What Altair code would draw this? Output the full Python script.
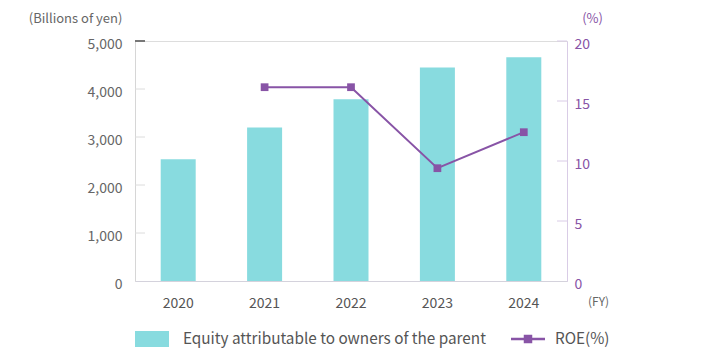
import altair as alt
import pandas as pd

years = ["2020", "2021", "2022", "2023", "2024"]
equity = [2535, 3200, 3785, 4450, 4660]
roe = [None, 16.15, 16.15, 9.4, 12.4]
left_tick_values = [1000, 2000, 3000, 4000, 5000]
right_tick_values = [5, 10, 15, 20]
equity_name = "Equity attributable to owners of the parent"
roe_name = "ROE(%)"

TEAL = "#88dbdf"
PURPLE = "#8854a6"
FONT = "Noto Sans CJK JP"

df = pd.DataFrame({"year": years, "equity": equity, "roe": roe,
                   "s1": equity_name, "s2": roe_name})
lt = pd.DataFrame({"v": left_tick_values})
rt = pd.DataFrame({"v": right_tick_values})

x_axis = alt.Axis(title="(FY)", labelAngle=0, ticks=False, tickSize=0, labelPadding=15,
                  labelFontSize=14, labelColor="#555", domainColor="#d4d2dc",
                  titleX=463, titleY=20, titleAlign="center", titleBaseline="middle",
                  titleFontSize=12, titleColor="#666", titleFontWeight="normal")
x_enc = alt.X("year:N", scale=alt.Scale(paddingInner=0, paddingOuter=0), axis=x_axis)

left_axis = alt.Axis(title="(Billions of yen)", values=[0, 1000, 2000, 3000, 4000, 5000],
                     format=",d", ticks=False, tickSize=0, grid=False,
                     domainColor="#d6d6d6", labelColor="#666", labelFontSize=14,
                     labelPadding=13, labelOffset=3, titleAngle=0, titleX=-60, titleY=-29,
                     titleAlign="center", titleBaseline="top", titleFontSize=13,
                     titleFontWeight="normal", titleColor="#666")
left_scale = alt.Scale(domain=[0, 5000], nice=False)

right_axis = alt.Axis(title="(%)", orient="right", values=[0, 5, 10, 15, 20],
                      ticks=False, tickSize=0, grid=False, domainColor="#d9cce6",
                      labelColor=PURPLE, labelFontSize=14, labelPadding=7, labelOffset=3,
                      titleAngle=0, titleX=25, titleY=-29, titleAlign="center",
                      titleBaseline="top", titleFontSize=13, titleFontWeight="normal",
                      titleColor=PURPLE)
right_scale = alt.Scale(domain=[0, 20], nice=False)

base = alt.Chart(df)

bars = base.mark_bar(size=35).encode(
    x=x_enc,
    y=alt.Y("equity:Q", scale=left_scale, axis=left_axis),
    color=alt.Color("s1:N", scale=alt.Scale(domain=[equity_name], range=[TEAL]),
                    legend=alt.Legend(title=None, orient="none", legendX=0, legendY=281,
                                      symbolType="M-1,-0.47L1,-0.47L1,0.47L-1,0.47Z",
                                      symbolSize=1156, symbolStrokeWidth=0,
                                      labelFontSize=15.3, labelColor="#555", labelLimit=400,
                                      labelOffset=14, padding=0, labelFont=FONT)),
)

lrules = alt.Chart(lt).mark_rule().encode(
    y=alt.Y("v:Q", scale=left_scale, axis=left_axis),
    x=alt.value(0), x2=alt.value(10),
    color=alt.condition("datum.v == 5000", alt.value("#777777"), alt.value("#dcdcdc")),
    strokeWidth=alt.condition("datum.v == 5000", alt.value(2), alt.value(1)),
)

roe_base = base.transform_filter("isValid(datum.roe)")
line = roe_base.mark_line(color=PURPLE, strokeWidth=2).encode(
    x=x_enc,
    y=alt.Y("roe:Q", scale=right_scale, axis=right_axis),
)
points = roe_base.mark_point(shape="square", filled=True, size=60, opacity=1,
                             strokeWidth=0).encode(
    x=x_enc,
    y=alt.Y("roe:Q", scale=right_scale, axis=right_axis),
    fill=alt.Fill("s2:N", scale=alt.Scale(domain=[roe_name], range=[PURPLE]),
                  legend=alt.Legend(title=None, orient="none", legendX=376, legendY=281,
                                    symbolType="M-1,-0.07L1,-0.07L1,0.07L-1,0.07Z M-0.25,-0.25L0.25,-0.25L0.25,0.25L-0.25,0.25Z",
                                    symbolSize=1156, symbolStrokeWidth=0, symbolOpacity=1,
                                    labelFontSize=15.3, labelColor="#555", labelLimit=200,
                                    labelOffset=10, padding=0, labelFont=FONT)),
)
rrules = alt.Chart(rt).mark_rule(color="#d9cce6", strokeWidth=1).encode(
    y=alt.Y("v:Q", scale=right_scale, axis=right_axis),
    x=alt.value(422), x2=alt.value(432),
)

left = alt.layer(bars, lrules)
right = alt.layer(line, points, rrules)

chart = alt.layer(left, right).resolve_scale(y="independent").properties(
    width=432, height=240,
    autosize=alt.AutoSizeParams(type="none"),
    padding={"left": 127, "top": 33, "right": 129, "bottom": 75},
).configure_view(stroke=None).configure(font=FONT)

chart.save("out.html", embed_options={"renderer": "svg", "actions": False})
